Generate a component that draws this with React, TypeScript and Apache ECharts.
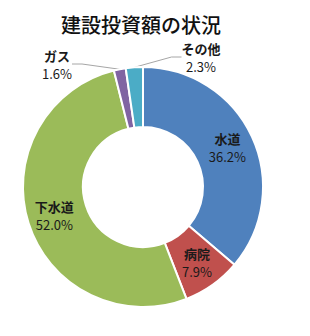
import React, { useEffect, useRef } from "react";
import * as echarts from "echarts";

const title = "建設投資額の状況";
const categories = ["水道", "病院", "下水道", "ガス", "その他"];
const values = [36.2, 7.9, 52.0, 1.6, 2.3];
const colors = ["#4F81BD", "#C0504D", "#9BBB59", "#8064A2", "#4BACC6"];
const outsideLabels = ["ガス", "その他"];

export default function App() {
  const ref = useRef<HTMLDivElement>(null);
  useEffect(() => {
    if (!ref.current) return;
    const chart = echarts.init(ref.current, null, { renderer: "svg" });
    const font = "'Noto Sans CJK JP', 'Noto Sans', sans-serif";
    const labelPos: Record<string, [number, number]> = {
      "ガス": [57, 64],
      "その他": [201, 57],
    };
    chart.setOption({
      animation: false,
      backgroundColor: "#ffffff",
      title: {
        text: title,
        left: 56,
        top: 9,
        textStyle: {
          fontFamily: font,
          fontSize: 20,
          fontWeight: 500,
          color: "#111",
        },
      },
      series: [
        {
          type: "pie",
          center: [143, 187],
          radius: [60, 120],
          startAngle: 90,
          clockwise: true,
          avoidLabelOverlap: false,
          itemStyle: { borderColor: "#ffffff", borderWidth: 2 },
          label: {
            show: true,
            position: "inside",
            fontFamily: font,
            fontSize: 13,
            color: "#1a1a1a",
            align: "center",
            formatter: (p: any) => `{n|${p.name}}\n{v|${p.value.toFixed(1)}%}`,
            rich: {
              n: { fontFamily: font, fontSize: 13, fontWeight: "bold", color: "#1a1a1a", lineHeight: 18 },
              v: { fontFamily: font, fontSize: 13, fontWeight: "normal", color: "#1a1a1a", lineHeight: 18 },
            },
          },
          labelLine: { show: false },
          labelLayout: (p: any) => {
            const name = categories[p.dataIndex];
            const pos = labelPos[name];
            if (!pos) return {};
            return { x: pos[0], y: pos[1], align: "center", verticalAlign: "middle" };
          },
          data: categories.map((c, i) => {
            const outside = outsideLabels.includes(c);
            return {
              name: c,
              value: values[i],
              itemStyle: { color: colors[i] },
              label: outside ? { position: "outside" } : undefined,
              labelLine: outside
                ? { show: true, length: 10, length2: 10, lineStyle: { color: "#A6A6A6", width: 1 } }
                : undefined,
            };
          }),
        },
      ],
    });
    return () => chart.dispose();
  }, []);
  return (
    <div
      ref={ref}
      style={{ position: "absolute", left: 0, top: 0, width: 310, height: 336 }}
    />
  );
}
